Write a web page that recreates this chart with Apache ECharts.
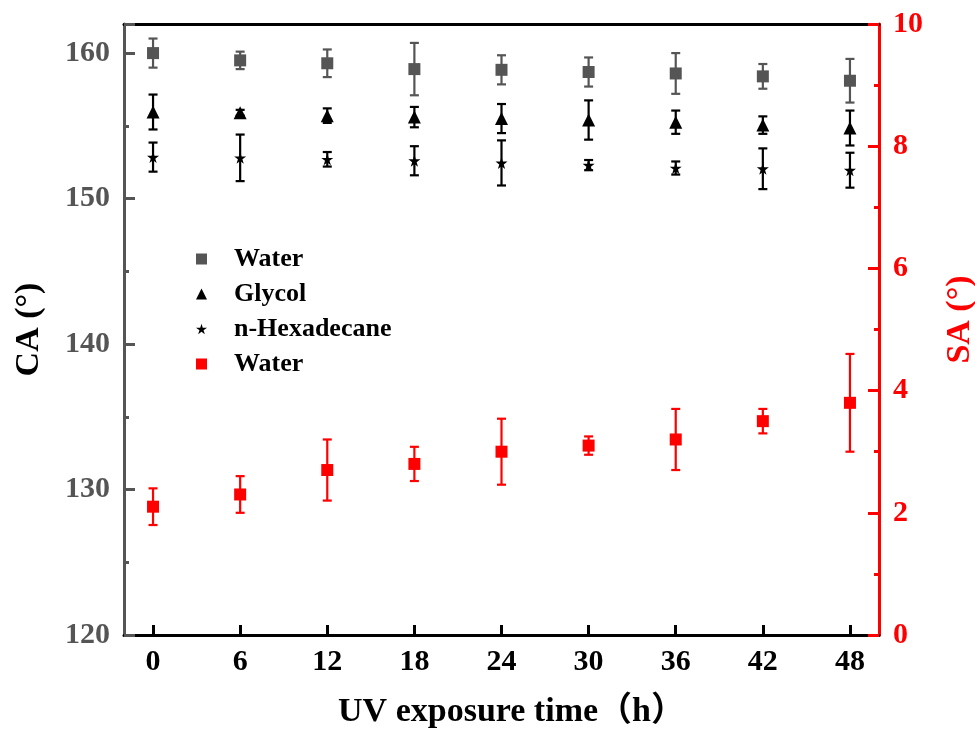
<!DOCTYPE html>
<html>
<head>
<meta charset="utf-8">
<script src="https://cdn.jsdelivr.net/npm/echarts@6/dist/echarts.min.js"></script>
<style>html,body{margin:0;padding:0;background:#fff;overflow:hidden}#c{width:975px;height:740px}</style>
</head>
<body>
<div id="c"></div>
<script>
// UV exposure time (h)
const times = [0, 6, 12, 18, 24, 30, 36, 42, 48];
const xTicks = [0, 6, 12, 18, 24, 30, 36, 42, 48];
// Contact angles (CA, °)
const waterCA     = [160.0, 159.5, 159.3, 158.9, 158.85, 158.7, 158.6, 158.4, 158.1];
const waterCAErr  = [1.0, 0.6, 0.95, 1.8, 1.0, 1.0, 1.4, 0.85, 1.5];
const glycolCA    = [155.95, 155.9, 155.7, 155.6, 155.5, 155.4, 155.25, 155.05, 154.85];
const glycolCAErr = [1.2, 0.2, 0.5, 0.7, 1.0, 1.35, 0.8, 0.6, 1.2];
const hexCA       = [152.85, 152.8, 152.7, 152.6, 152.45, 152.3, 152.1, 152.05, 151.95];
const hexCAErr    = [1.0, 1.6, 0.5, 1.0, 1.55, 0.35, 0.45, 1.4, 1.2];
// Sliding angle (SA, °)
const waterSA     = [2.1, 2.3, 2.7, 2.8, 3.0, 3.1, 3.2, 3.5, 3.8];
const waterSAErr  = [0.3, 0.3, 0.5, 0.28, 0.54, 0.15, 0.5, 0.2, 0.8];
// Legend labels
const legendNames = ['Water', 'Glycol', 'n-Hexadecane', 'Water'];

const GRAY = '#555555', BLACK = '#000000', RED = '#ff0000';
const SERIF = '"Liberation Serif", "Times New Roman", "DejaVu Serif", "Noto Sans CJK SC", serif';
const STAR = 'path://M50,0 L61,35 L98,35 L68,57 L79,91 L50,70 L21,91 L32,57 L2,35 L39,35 Z';

function errSeries(id, vals, errs, color, yAxisIndex) {
  return {
    type: 'custom', name: id, yAxisIndex: yAxisIndex, silent: true, z: 2,
    data: times.map((t, i) => [t, vals[i] - errs[i], vals[i] + errs[i]]),
    encode: { x: 0, y: [1, 2] },
    renderItem: function (params, api) {
      const x = api.value(0);
      const lo = api.coord([x, api.value(1)]);
      const hi = api.coord([x, api.value(2)]);
      const w = 4.5;
      const st = { stroke: color, lineWidth: 2.2 };
      return {
        type: 'group',
        children: [
          { type: 'line', shape: { x1: lo[0], y1: lo[1], x2: hi[0], y2: hi[1] }, style: st },
          { type: 'line', shape: { x1: lo[0] - w, y1: lo[1], x2: lo[0] + w, y2: lo[1] }, style: st },
          { type: 'line', shape: { x1: hi[0] - w, y1: hi[1], x2: hi[0] + w, y2: hi[1] }, style: st }
        ]
      };
    }
  };
}

const seriesKeys = ['s0', 's1', 's2', 's3'];
const chart = echarts.init(document.getElementById('c'), null, { renderer: 'canvas', width: 975, height: 740 });
const option = {
  animation: false,
  backgroundColor: '#fff',
  grid: { left: 124, right: 96, top: 24, bottom: 105, containLabel: false, outerBoundsMode: 'none' },
  legend: {
    orient: 'vertical', left: 191, top: 241,
    itemWidth: 11, itemHeight: 11, itemGap: 9,
    data: seriesKeys,
    formatter: function (n) { return legendNames[seriesKeys.indexOf(n)]; },
    textStyle: { fontFamily: SERIF, fontWeight: 'bold', fontSize: 26, color: '#000', lineHeight: 26, padding: [0, 0, 0, 22] }
  },
  xAxis: [{
    type: 'value', min: -2, max: 50, position: 'bottom',
    name: 'UV exposure time（h）', nameLocation: 'middle', nameGap: 60,
    nameTextStyle: { fontFamily: SERIF, fontWeight: 'bold', fontSize: 34, color: '#000', padding: [0, 0, 0, 20] },
    axisLine: { show: true, onZero: false, lineStyle: { color: BLACK, width: 3 } },
    axisTick: { show: true, inside: true, length: 10, customValues: xTicks, lineStyle: { color: BLACK, width: 3 } },
    axisLabel: { show: true, customValues: xTicks, margin: 12, fontFamily: SERIF, fontWeight: 'bold', fontSize: 30, color: '#000' },
    splitLine: { show: false }
  }, {
    type: 'value', min: -2, max: 50, position: 'top',
    axisLine: { show: true, onZero: false, lineStyle: { color: BLACK, width: 3 } },
    axisTick: { show: false }, axisLabel: { show: false }, splitLine: { show: false }
  }],
  yAxis: [{
    type: 'value', min: 120, max: 162, interval: 10, position: 'left',
    name: 'CA (°)', nameLocation: 'middle', nameGap: 78, nameRotate: 90,
    nameTextStyle: { fontFamily: SERIF, fontWeight: 'bold', fontSize: 34, color: '#000' },
    axisLine: { show: true, onZero: false, lineStyle: { color: GRAY, width: 3 } },
    axisTick: { show: true, inside: true, length: 11, lineStyle: { color: GRAY, width: 3 } },
    minorTick: { show: true, splitNumber: 2, length: 5, lineStyle: { color: GRAY, width: 3 } },
    axisLabel: { margin: 14, fontFamily: SERIF, fontWeight: 'bold', fontSize: 30, color: GRAY,
      formatter: function (v) { return v % 10 === 0 ? String(v) : ''; } },
    splitLine: { show: false }
  }, {
    type: 'value', min: 0, max: 10, interval: 2, position: 'right',
    name: 'SA (°)', nameLocation: 'middle', nameGap: 64, nameRotate: 90,
    nameTextStyle: { fontFamily: SERIF, fontWeight: 'bold', fontSize: 34, color: RED, padding: [0, 0, 0, 20] },
    axisLine: { show: true, onZero: false, lineStyle: { color: RED, width: 3 } },
    axisTick: { show: true, inside: true, length: 11, lineStyle: { color: RED, width: 3 } },
    minorTick: { show: true, splitNumber: 2, length: 5, lineStyle: { color: RED, width: 3 } },
    axisLabel: { margin: 14, fontFamily: SERIF, fontWeight: 'bold', fontSize: 30, color: RED },
    splitLine: { show: false }
  }],
  series: [
    errSeries('e0', waterCA, waterCAErr, GRAY, 0),
    errSeries('e1', glycolCA, glycolCAErr, BLACK, 0),
    errSeries('e2', hexCA, hexCAErr, BLACK, 0),
    errSeries('e3', waterSA, waterSAErr, RED, 1),
    { type: 'scatter', name: 's0', yAxisIndex: 0, symbol: 'rect', symbolSize: 12, z: 3,
      itemStyle: { color: GRAY, opacity: 1 }, data: times.map((t, i) => [t, waterCA[i]]) },
    { type: 'scatter', name: 's1', yAxisIndex: 0, symbol: 'triangle', symbolSize: 13, z: 3,
      itemStyle: { color: BLACK, opacity: 1 }, data: times.map((t, i) => [t, glycolCA[i]]) },
    { type: 'scatter', name: 's2', yAxisIndex: 0, symbol: STAR, symbolSize: 12, z: 3,
      itemStyle: { color: BLACK, opacity: 1 }, data: times.map((t, i) => [t, hexCA[i]]) },
    { type: 'scatter', name: 's3', yAxisIndex: 1, symbol: 'rect', symbolSize: 12, z: 3,
      itemStyle: { color: RED, opacity: 1 }, data: times.map((t, i) => [t, waterSA[i]]) }
  ]
};
chart.setOption(option);
</script>
</body>
</html>
